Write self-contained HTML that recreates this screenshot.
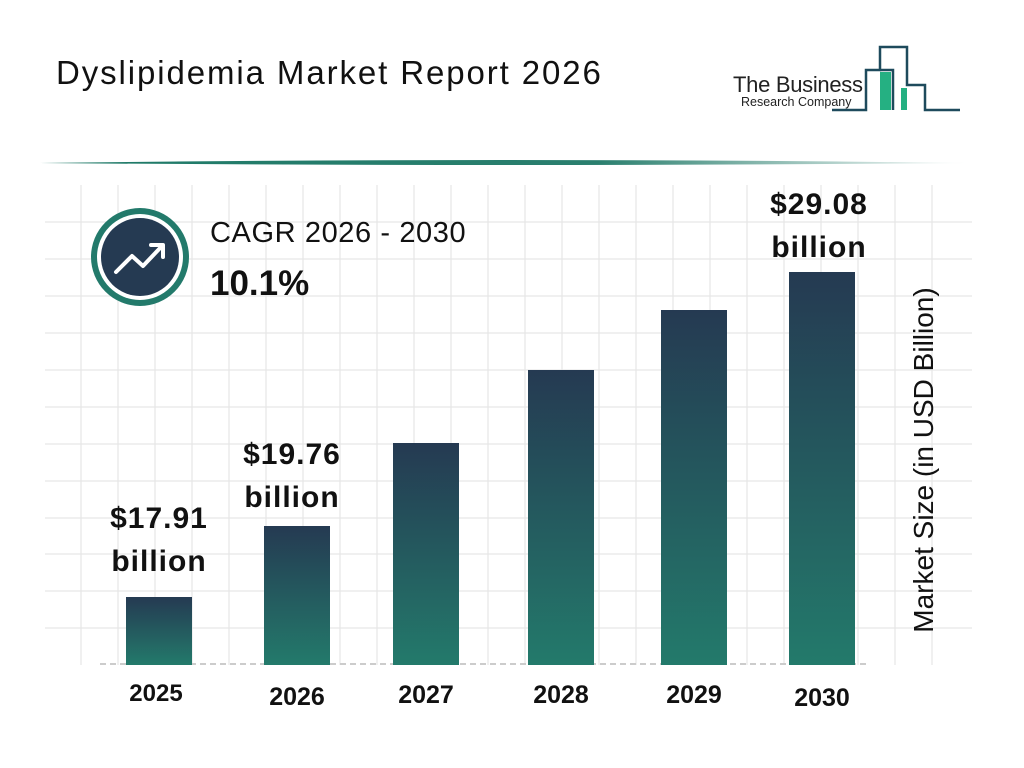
<!DOCTYPE html>
<html><head><meta charset="utf-8"><style>
body{margin:0;width:1024px;height:768px;background:#fff;font-family:"Liberation Sans",sans-serif;position:relative;overflow:hidden}
.a{position:absolute}
.bar{position:absolute;width:66px;background:linear-gradient(#253a52,#237a6b);bottom:103px}
.lab{position:absolute;font-weight:bold;font-size:30px;letter-spacing:1px;text-align:center;width:170px;line-height:43px;color:#111}
.yr{position:absolute;font-weight:bold;font-size:25px;text-align:center;width:100px;top:681px;color:#111}
</style></head><body>
<svg class="a" style="left:0;top:0" width="1024" height="768">
<defs><linearGradient id="hl" x1="0" x2="1"><stop offset="0" stop-color="#1f7a68"/><stop offset="0.6" stop-color="#2a7f6e"/><stop offset="1" stop-color="#2a7f6e" stop-opacity="0"/></linearGradient></defs>
<path d="M40 163 Q500 157 970 163 Q500 167 40 163Z" fill="url(#hl)"/>
<g stroke="#e6e6e6" stroke-width="1.2">
<line x1="45" x2="972" y1="222" y2="222"/><line x1="45" x2="972" y1="259" y2="259"/><line x1="45" x2="972" y1="296" y2="296"/><line x1="45" x2="972" y1="333" y2="333"/><line x1="45" x2="972" y1="370" y2="370"/><line x1="45" x2="972" y1="407" y2="407"/><line x1="45" x2="972" y1="444" y2="444"/><line x1="45" x2="972" y1="481" y2="481"/><line x1="45" x2="972" y1="518" y2="518"/><line x1="45" x2="972" y1="554" y2="554"/><line x1="45" x2="972" y1="591" y2="591"/><line x1="45" x2="972" y1="628" y2="628"/>
</g>
<g stroke="#e6e6e6" stroke-width="1.2" id="v"></g>
<line x1="100" x2="870" y1="664" y2="664" stroke="#ccc" stroke-width="2" stroke-dasharray="6,4"/>
<g fill="none" stroke="#1e4a5c" stroke-width="2.5">
<path d="M832 110 H866 V70 H880 V47 H907 V85 H925 V110 H960"/>
<path d="M880 70 H893 V110"/>
</g>
<rect x="880" y="72" width="11" height="38" fill="#25b082"/>
<rect x="901" y="88" width="6" height="22" fill="#25b082"/>
<circle cx="140" cy="257" r="49" fill="#237a6b"/>
<circle cx="140" cy="257" r="43" fill="#fff"/>
<circle cx="140" cy="257" r="39" fill="#253a52"/>
<path d="M116 272 L132 256 L143 266 L162 246 M151 245 H163 V257" fill="none" stroke="#fff" stroke-width="4" stroke-linecap="round" stroke-linejoin="round"/>
</svg>
<script>
var g=document.getElementById('v'),s='';for(var x=81;x<=935;x+=37){s+='<line x1="'+x+'" x2="'+x+'" y1="185" y2="665"/>';}g.innerHTML=s;
</script>
<div class="a" style="left:56px;top:54px;font-size:33px;letter-spacing:1.9px;color:#111">Dyslipidemia Market Report 2026</div>
<div class="a" style="left:733px;top:72px;font-size:22px;color:#222;letter-spacing:-0.3px">The Business</div>
<div class="a" style="left:741px;top:95px;font-size:12.5px;color:#222">Research Company</div>
<div class="a" style="left:210px;top:217px;font-size:29px;letter-spacing:0.6px;color:#111">CAGR 2026 - 2030</div>
<div class="a" style="left:210px;top:264px;font-size:35px;font-weight:bold;color:#111">10.1%</div>
<div class="bar" style="left:126px;top:597px"></div>
<div class="bar" style="left:264px;top:526px"></div>
<div class="bar" style="left:393px;top:443px"></div>
<div class="bar" style="left:528px;top:370px"></div>
<div class="bar" style="left:661px;top:310px"></div>
<div class="bar" style="left:789px;top:272px"></div>
<div class="lab" style="left:74px;top:497px">$17.91<br>billion</div>
<div class="lab" style="left:207px;top:433px">$19.76<br>billion</div>
<div class="lab" style="left:734px;top:183px">$29.08<br>billion</div>
<div class="yr" style="left:106px;top:680px;font-size:24px">2025</div>
<div class="yr" style="left:247px;top:683px">2026</div>
<div class="yr" style="left:376px">2027</div>
<div class="yr" style="left:511px">2028</div>
<div class="yr" style="left:644px">2029</div>
<div class="yr" style="left:772px;top:684px">2030</div>
<div class="a" style="left:924px;top:460px;transform:translate(-50%,-50%) rotate(-90deg);font-size:28px;color:#111;white-space:nowrap">Market Size (in USD Billion)</div>
</body></html>
